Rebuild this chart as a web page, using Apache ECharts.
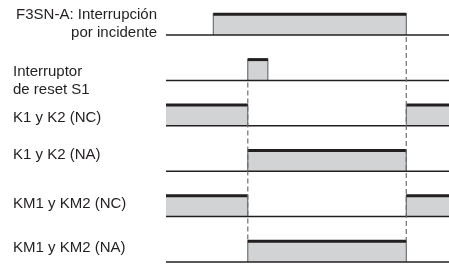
<!DOCTYPE html>
<html>
<head>
<meta charset="utf-8">
<script src="https://cdn.jsdelivr.net/npm/echarts@6/dist/echarts.min.js"></script>
<style>
  html, body { margin: 0; padding: 0; background: #fff; }
  #chart { width: 449px; height: 266px; }
</style>
</head>
<body>
<div id="chart"></div>
<script>
// tiempo relativo 0..100, filas 0..5 (de arriba a abajo)
var rowNames = ["F3SN-A", "S1", "K1 y K2 (NC)", "K1 y K2 (NA)", "KM1 y KM2 (NC)", "KM1 y KM2 (NA)"];
var incidente = [[16.7, 84.9]];
var resetS1 = [[28.9, 36]];
var k1k2NC = [[0, 28.9], [84.9, 100]];
var k1k2NA = [[28.9, 84.9]];
var km1km2NC = [[0, 28.9], [84.9, 100]];
var km1km2NA = [[28.9, 84.9]];
var signals = [incidente, resetS1, k1k2NC, k1k2NA, km1km2NC, km1km2NA];
// lineas de referencia: [tiempo, fila desde, fila hasta]
var guides = [[28.9, 1, 5], [84.9, 0, 5]];

var labelLines = [
  ["F3SN-A: Interrupción", 157, 15, "right"],
  ["por incidente", 157, 33, "right"],
  ["Interruptor", 13, 72, "left"],
  ["de reset S1", 13, 90, "left"],
  ["K1 y K2 (NC)", 13, 118, "left"],
  ["K1 y K2 (NA)", 13, 155, "left"],
  ["KM1 y KM2 (NC)", 13, 204, "left"],
  ["KM1 y KM2 (NA)", 13, 248, "left"]
];

var pulseH = 0.48;
var dark = "#231f20";
var fillGray = "#d1d3d4";

var pulseData = [];
signals.forEach(function (s, row) {
  s.forEach(function (p) {
    pulseData.push([p[0], p[1], row]);
  });
});
var baseData = rowNames.map(function (n, i) { return [0, 100, i]; });

var myChart = echarts.init(document.getElementById("chart"));
var option = {
  animation: false,
  grid: { left: 166, right: 0, top: 35, bottom: 4 },
  xAxis: { type: "value", min: 0, max: 100, show: false },
  yAxis: { type: "value", min: 0, max: 5, inverse: true, show: false },
  graphic: labelLines.map(function (l) {
    return {
      type: "text",
      x: l[1],
      y: l[2],
      style: {
        text: l[0],
        fill: dark,
        font: "15px 'Liberation Sans', Arial, sans-serif",
        textAlign: l[3],
        textVerticalAlign: "middle",
        align: l[3],
        verticalAlign: "middle"
      }
    };
  }),
  series: [
    {
      type: "custom",
      clip: false,
      data: pulseData,
      renderItem: function (params, api) {
        var t0 = api.value(0), t1 = api.value(1), row = api.value(2);
        var a = api.coord([t0, row - pulseH]);
        var b = api.coord([t1, row]);
        var children = [
          { type: "rect", shape: { x: a[0], y: a[1], width: b[0] - a[0], height: b[1] - a[1] }, style: { fill: fillGray } }
        ];
        if (t0 > 0) children.push({ type: "line", shape: { x1: a[0], y1: a[1], x2: a[0], y2: b[1] }, style: { stroke: "#58595b", lineWidth: 1 } });
        if (t1 < 100) children.push({ type: "line", shape: { x1: b[0], y1: a[1], x2: b[0], y2: b[1] }, style: { stroke: "#58595b", lineWidth: 1 } });
        children.push({ type: "line", shape: { x1: a[0], y1: a[1] + 1, x2: b[0], y2: a[1] + 1 }, style: { stroke: dark, lineWidth: 3 } });
        return { type: "group", children: children };
      }
    },
    {
      type: "custom",
      clip: false,
      data: baseData,
      renderItem: function (params, api) {
        var a = api.coord([api.value(0), api.value(2)]);
        var b = api.coord([api.value(1), api.value(2)]);
        return { type: "line", shape: { x1: a[0], y1: a[1], x2: b[0], y2: b[1] }, style: { stroke: dark, lineWidth: 1.5 } };
      }
    },
    {
      type: "custom",
      clip: false,
      data: guides,
      renderItem: function (params, api) {
        var a = api.coord([api.value(0), api.value(1)]);
        var b = api.coord([api.value(0), api.value(2) - pulseH]);
        return { type: "line", shape: { x1: a[0], y1: a[1] + 2, x2: b[0], y2: b[1] }, style: { stroke: "#6d6e71", lineWidth: 1.2, lineDash: [5, 3] } };
      }
    }
  ]
};
myChart.setOption(option);
</script>
</body>
</html>
